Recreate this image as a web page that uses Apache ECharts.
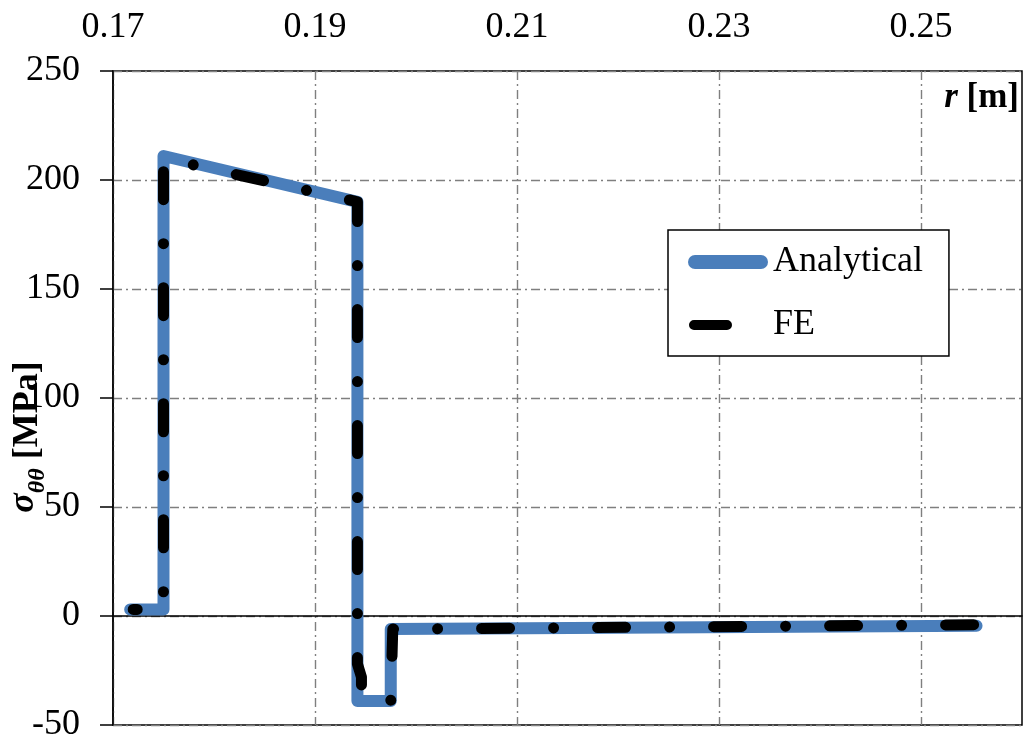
<!DOCTYPE html>
<html>
<head>
<meta charset="utf-8">
<script src="https://cdn.jsdelivr.net/npm/echarts@6/dist/echarts.min.js"></script>
<style>
html,body{margin:0;padding:0;background:#fff;}
#chart{width:1027px;height:743px;}
</style>
</head>
<body>
<div id="chart"></div>
<script>
// Radius r [m] and hoop stress sigma_theta-theta [MPa]
var analyticalR = [0.1717, 0.1750, 0.1750, 0.1942, 0.1942, 0.1975, 0.1975, 0.2555];
var analyticalS = [3, 3, 211, 190, -39, -39, -6, -4.5];
var feR = [0.1720, 0.1750, 0.1750, 0.1942, 0.1942, 0.1946, 0.1946, 0.1975, 0.1977, 0.2555];
var feS = [3, 3, 210, 190, -22, -28, -38, -39, -6, -4];
var xTicks = { min: 0.17, max: 0.26, step: 0.01 };
var yTicks = { min: -50, max: 250, step: 50 };

var serif = 'Liberation Serif';
function pairs(xs, ys) { return xs.map(function (x, i) { return [x, ys[i]]; }); }

var chart = echarts.init(document.getElementById('chart'), null, { renderer: 'canvas' });
chart.setOption({
  animation: false,
  backgroundColor: '#fff',
  grid: { left: 113, right: 5, top: 71, bottom: 17, show: true, borderColor: '#000', borderWidth: 1.5, backgroundColor: 'transparent' },
  xAxis: [{
    type: 'value', position: 'top', min: xTicks.min, max: xTicks.max, interval: xTicks.step,
    axisLine: { show: false, onZero: false },
    axisTick: { show: false },
    axisLabel: {
      margin: 25, color: '#000', fontFamily: serif, fontSize: 36,
      formatter: function (v) { var k = Math.round(v * 100); return (k % 2 === 1) ? (k / 100).toFixed(2) : ''; }
    },
    splitLine: { show: true, lineStyle: { color: ['#7f7f7f', 'rgba(0,0,0,0)'], width: 1.4, type: [9, 4, 2, 4] } }
  }, {
    type: 'value', position: 'bottom', min: xTicks.min, max: xTicks.max,
    axisLine: { show: true, onZero: true, lineStyle: { color: '#000', width: 1.5 } },
    axisTick: { show: false }, axisLabel: { show: false }, splitLine: { show: false }
  }],
  yAxis: {
    type: 'value', min: yTicks.min, max: yTicks.max, interval: yTicks.step,
    axisLine: { show: true, lineStyle: { color: '#000', width: 1.5 } },
    axisTick: { show: true, inside: false, length: 13, lineStyle: { color: '#000', width: 1.5 } },
    axisLabel: { margin: 33, color: '#000', fontFamily: serif, fontSize: 36 },
    splitLine: { show: true, lineStyle: { color: '#7f7f7f', width: 1.4, type: [9, 4, 2, 4] } }
  },
  legend: {
    orient: 'vertical', left: 668, top: 230,
    padding: [14, 26, 13, 20], itemGap: 27, itemWidth: 80, itemHeight: 14,
    backgroundColor: '#fff', borderColor: '#000', borderWidth: 1.5,
    itemStyle: { borderWidth: 0 },
    textStyle: { color: '#000', fontFamily: serif, fontSize: 36, lineHeight: 36 },
    data: [
      { name: 'Analytical', icon: 'path://M7,0 L73,0 A7,7 0 0 1 73,14 L7,14 A7,7 0 0 1 7,0 Z' },
      { name: 'FE', icon: 'path://M6,2 L39,2 A5,5 0 0 1 39,12 L6,12 A5,5 0 0 1 6,2 Z M80,0 Z M0,14 Z' }
    ]
  },
  graphic: [
    {
      type: 'text', x: 28, y: 437, rotation: Math.PI / 2,
      style: {
        text: '{s|σ}{t|θθ}{u| [MPa]}', align: 'center', verticalAlign: 'middle',
        rich: {
          s: { fontFamily: serif, fontSize: 36, fontWeight: 'bold', fontStyle: 'italic', verticalAlign: 'top', lineHeight: 30 },
          t: { fontFamily: serif, fontSize: 24, fontWeight: 'bold', fontStyle: 'italic', verticalAlign: 'bottom', lineHeight: 24 },
          u: { fontFamily: serif, fontSize: 36, fontWeight: 'bold', lineHeight: 44, verticalAlign: 'middle' }
        }
      }
    },
    {
      type: 'text', x: 1019, y: 98,
      style: {
        text: '{a|r}{b| [m]}', align: 'right', verticalAlign: 'middle',
        rich: {
          a: { fontFamily: serif, fontSize: 35, fontWeight: 'bold', fontStyle: 'italic' },
          b: { fontFamily: serif, fontSize: 35, fontWeight: 'bold' }
        }
      }
    }
  ],
  series: [{
    name: 'Analytical', type: 'line', xAxisIndex: 0, data: pairs(analyticalR, analyticalS),
    symbol: 'none', z: 2,
    lineStyle: { color: '#4A7EBB', width: 12, cap: 'round', join: 'round' },
    itemStyle: { color: '#4A7EBB' }
  }, {
    name: 'FE', type: 'line', xAxisIndex: 0, data: pairs(feR, feS),
    symbol: 'none', z: 3,
    lineStyle: { color: '#000', width: 11, cap: 'round', join: 'round', type: [28, 44, 0.01, 44], dashOffset: 24 },
    itemStyle: { color: '#000' }
  }]
});
</script>
</body>
</html>
